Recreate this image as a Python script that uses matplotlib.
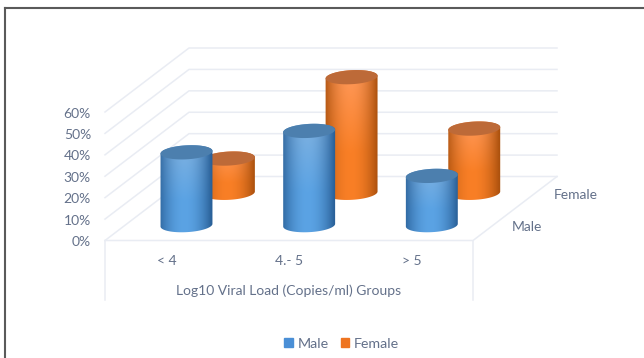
import numpy as np
import matplotlib
matplotlib.use("Agg")
import matplotlib.pyplot as plt
from matplotlib.patches import Patch, PathPatch
from matplotlib.path import Path

# Share of patients per viral load group
categories = ["< 4", "4.- 5", "> 5"]
series_names = ["Male", "Female"]
male_values = [34, 44, 23]
female_values = [16, 54, 30]
value_ticks = [0, 10, 20, 30, 40, 50, 60]
x_title = "Log10 Viral Load (Copies/ml) Groups"

# Oblique projection of the 3-D box, in figure pixels
W, H = 644, 358
X0, X1 = 105.0, 473.0
Y0, Y60 = 240.5, 112.0
DEPTH_X, DEPTH_Y = 84.0, -64.0
PANEL_BOTTOM = 300.0
RADIUS_X, RADIUS_Y, TILT = 26.0, 7.0, np.radians(-3.2)
TEXT = "#64718a"
GRID = "#e9ecf3"
FONT = 10.0


def project(cat_pos, depth, value):
    """cat_pos in category units, depth in 0..1, value in percent."""
    x = X0 + (X1 - X0) * cat_pos / len(categories) + DEPTH_X * depth
    y = Y0 + (Y60 - Y0) * value / 60.0 + DEPTH_Y * depth
    return x, y


def ellipse_points(cx, cy, t):
    ex = RADIUS_X * np.cos(t)
    ey = RADIUS_Y * np.sin(t)
    return (cx + ex * np.cos(TILT) - ey * np.sin(TILT),
            cy + ex * np.sin(TILT) + ey * np.cos(TILT))


def closed(xs, ys):
    verts = np.column_stack([xs, ys])
    codes = [Path.MOVETO] + [Path.LINETO] * (len(verts) - 1)
    return Path(verts, codes)


def shade(edge, mid, light, nx=80, ny=80):
    """Horizontal cylinder shading with a slightly paler upper part."""
    edge, mid, light = (np.array(matplotlib.colors.to_rgb(c)) for c in (edge, mid, light))
    u = np.linspace(-1, 1, nx)
    v = np.linspace(0, 1, ny)[:, None, None]
    k = (np.clip(1 - np.abs(u + 0.05) ** 2.0, 0, 1))[None, :, None]
    body = edge + (mid - edge) * k
    sheen = np.clip(1 - v * 1.6, 0, 1) * k
    return np.clip(body + (light - mid) * sheen, 0, 1)


def cylinder(ax, cat, depth, value, colours, cap):
    cx, y_bottom = project(cat + 0.5, depth, 0)
    _, y_top = project(cat + 0.5, depth, value)
    # Lower rim runs right to left, upper rim back from left to right
    bx, by = ellipse_points(cx, y_bottom, np.linspace(0, np.pi, 90))
    tx, ty = ellipse_points(cx, y_top, np.linspace(np.pi, 2 * np.pi, 90))
    body = closed(np.r_[bx, tx], np.r_[by, ty])
    img = ax.imshow(shade(*colours), extent=(cx - RADIUS_X - 1, cx + RADIUS_X + 1,
                                             y_bottom + RADIUS_Y + 3, y_top - RADIUS_Y - 3),
                    aspect="auto", interpolation="bilinear", zorder=3)
    clip = PathPatch(body, transform=ax.transData, facecolor="none", edgecolor="none")
    ax.add_patch(clip)
    img.set_clip_path(clip)
    ex, ey = ellipse_points(cx, y_top, np.linspace(0, 2 * np.pi, 120))
    ax.fill(ex, ey, color=cap, lw=0, zorder=3)


fig = plt.figure(figsize=(W / 100, H / 100), dpi=100)
plt.rcParams["font.family"] = ["Lato", "DejaVu Sans"]
ax = fig.add_axes([0, 0, 1, 1])
ax.set_xlim(0, W)
ax.set_ylim(H, 0)
ax.axis("off")

# Outer frame: only the top and left edges are dark
ax.plot([5.5, W], [7.5, 7.5], color="#5a5a5a", lw=1.5, zorder=1)
ax.plot([5.5, 5.5], [7.5, H], color="#5a5a5a", lw=1.5, zorder=1)

# Wall and floor grid
n_cat = len(categories)
for v in value_ticks:
    a = project(0, 0, v)
    b = project(0, 1, v)
    c = project(n_cat, 1, v)
    ax.plot([a[0], b[0], c[0]], [a[1], b[1], c[1]], color=GRID, lw=1.1, zorder=1)
    ax.text(a[0] - 14, a[1] + 1.5, f"{v}%", ha="right", va="center", color=TEXT, fontsize=FONT)
a, b, c = project(0, 0, 0), project(n_cat, 0, 0), project(n_cat, 1, 0)
ax.plot([a[0], b[0], c[0]], [a[1], b[1], c[1]], color=GRID, lw=1.1, zorder=1)
ax.plot([a[0], a[0]], [a[1], PANEL_BOTTOM], color=GRID, lw=1.1, zorder=1)
ax.plot([b[0], b[0]], [b[1], PANEL_BOTTOM], color=GRID, lw=1.1, zorder=1)

BLUE = ("#2a6199", "#5ba3e4", "#80b2e0")
ORANGE = ("#ad520e", "#f97f26", "#ff9a5c")
BLUE_CAP = "#4c7fae"
ORANGE_CAP = "#bd6a38"
for i, value in enumerate(female_values):
    cylinder(ax, i, 0.745, value, ORANGE, ORANGE_CAP)
for i, value in enumerate(male_values):
    cylinder(ax, i, 0.24, value, BLUE, BLUE_CAP)

# Category and depth labels
for i, name in enumerate(categories):
    x, _ = project(i + 0.5, 0, 0)
    ax.text(x, 261, name, ha="center", va="center", color=TEXT, fontsize=FONT)
ax.text(288.5, 291, x_title, ha="center", va="center", color=TEXT, fontsize=FONT)
ax.text(527, 227, series_names[0], ha="center", va="center", color=TEXT, fontsize=FONT)
ax.text(576, 195, series_names[1], ha="center", va="center", color=TEXT, fontsize=FONT)

handles = [Patch(color="#4a8fd6"), Patch(color="#ee7420")]
ax.legend(handles, series_names, ncol=2, frameon=False, loc="center",
          bbox_to_anchor=(341.5 / W, 1 - 343.5 / H), fontsize=10.3,
          handlelength=0.62, handleheight=0.62, handletextpad=0.3, columnspacing=0.85,
          labelcolor=TEXT)

fig.savefig("out.png", dpi=100)
